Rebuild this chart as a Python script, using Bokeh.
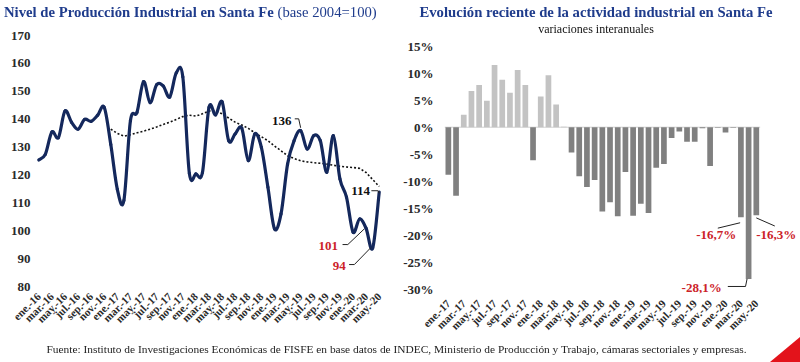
import math
import numpy as np
from bokeh.plotting import figure
from bokeh.models import Range1d, FixedTicker, Label, Div
from bokeh.layouts import row, column
from bokeh.embed import file_html
from bokeh.resources import INLINE

SERIF = "Liberation Serif"
NAVY = "#14285c"
TITLE_BLUE = "#1f3c8c"
RED = "#cc2229"

# ---------------- data: left chart (ene-16 .. may-20) ----------------
left_months = [
    "ene.-16", "feb.-16", "mar.-16", "abr.-16", "may.-16", "jun.-16", "jul.-16", "ago.-16", "sep.-16", "oct.-16", "nov.-16", "dic.-16",
    "ene.-17", "feb.-17", "mar.-17", "abr.-17", "may.-17", "jun.-17", "jul.-17", "ago.-17", "sep.-17", "oct.-17", "nov.-17", "dic.-17",
    "ene.-18", "feb.-18", "mar.-18", "abr.-18", "may.-18", "jun.-18", "jul.-18", "ago.-18", "sep.-18", "oct.-18", "nov.-18", "dic.-18",
    "ene.-19", "feb.-19", "mar.-19", "abr.-19", "may.-19", "jun.-19", "jul.-19", "ago.-19", "sep.-19", "oct.-19", "nov.-19", "dic.-19",
    "ene.-20", "feb.-20", "mar.-20", "abr.-20", "may.-20",
]
ipi_index = [
    125.5, 127.5, 135.5, 133.5, 143.0, 139.0, 136.5, 140.0, 139.3, 141.5, 144.3, 131.0,
    115.0, 111.0, 139.5, 142.5, 153.5, 146.0, 152.4, 152.0, 148.0, 156.6, 155.2, 120.7,
    120.5, 121.0, 144.3, 141.6, 146.3, 132.4, 134.8, 136.9, 125.3, 134.8, 130.0, 115.7,
    100.9, 106.2, 124.0, 132.4, 136.0, 129.4, 134.2, 132.4, 121.1, 134.2, 118.7, 112.2,
    99.7, 104.4, 101.0, 94.0, 114.0,
]
nan = float("nan")
ipi_trend = [
    nan, nan, nan, nan, nan, nan, nan, nan, nan, nan, nan, 136.5,
    135.0, 134.0, 134.5, 135.2, 135.8, 136.5, 137.3, 138.2, 139.0, 140.0, 141.0, 141.5,
    141.2, 142.0, 143.0, 143.0, 142.0, 140.5, 139.0, 138.0, 136.8, 135.2, 133.8, 132.4,
    130.5, 128.8, 127.0, 126.0, 125.2, 124.8, 124.5, 124.3, 124.0, 123.6, 123.2, 123.0,
    122.8, 122.5, 121.0, 118.5, 116.0,
]
left_yticks = [80, 90, 100, 110, 120, 130, 140, 150, 160, 170]

# ---------------- data: right chart (ene-17 .. may-20) ----------------
right_months = left_months[12:]
yoy_change = [
    -8.8, -12.7, 2.3, 6.7, 7.8, 4.9, 11.5, 8.8, 6.4, 10.6, 7.8, -6.1,
    5.7, 9.6, 4.2, 0.1, -4.7, -9.1, -11.1, -9.8, -15.6, -13.9, -16.5, -8.3,
    -16.4, -14.2, -15.9, -7.5, -6.8, -2.0, -0.8, -2.7, -2.7, -0.2, -7.2, -0.1,
    -1.0, -0.1, -16.7, -28.1, -16.3,
]
right_yticks = [-30, -25, -20, -15, -10, -5, 0, 5, 10, 15]

left_title_bold = "Nivel de Producción Industrial en Santa Fe"
left_title_reg = "(base 2004=100)"
right_title = "Evolución reciente de la actividad industrial en Santa Fe"
right_subtitle = "variaciones interanuales"
source_text = ("Fuente: Instituto de Investigaciones Económicas de FISFE en base datos de INDEC, "
               "Ministerio de Producción y Trabajo, cámaras sectoriales y empresas.")


def style_axes(p):
    p.outline_line_color = None
    p.border_fill_color = None
    p.background_fill_color = None
    p.xgrid.grid_line_color = None
    p.ygrid.grid_line_color = None
    for ax in (p.xaxis[0], p.yaxis[0]):
        ax.axis_line_color = None
        ax.major_tick_line_color = None
        ax.minor_tick_line_color = None
        ax.major_tick_out = 0
        ax.major_tick_in = 0
        ax.minor_tick_out = 0
        ax.minor_tick_in = 0
        ax.major_label_text_font = SERIF
        ax.major_label_text_font_style = "bold"
        ax.major_label_text_color = "#2a2a2a"
    p.yaxis[0].major_label_text_font_size = "13px"
    p.xaxis[0].major_label_text_font_size = "11px"
    p.xaxis[0].major_label_orientation = math.pi / 4


def lab(p, x, y, text, color="#111111", align="right", size="13px"):
    p.add_layout(Label(x=x, y=y, text=text, text_align=align, text_baseline="middle",
                       text_font=SERIF, text_font_style="bold", text_font_size=size,
                       text_color=color))


# both figures share the same top/bottom borders (a row aligns them)
TOP, BOTTOM = 35, 47

# ================= left figure =================
nL = len(left_months)
xL = list(range(nL))
pL = figure(width=400, height=340, output_backend="svg", toolbar_location=None, title=None,
            x_range=Range1d(-0.5, nL - 0.5), y_range=Range1d(77.75, 170),
            min_border_left=35, min_border_right=18, min_border_top=TOP, min_border_bottom=BOTTOM)
style_axes(pL)
pL.yaxis[0].ticker = FixedTicker(ticks=left_yticks)
pL.yaxis[0].major_label_standoff = 5
pL.xaxis[0].ticker = FixedTicker(ticks=xL[::2])
pL.xaxis[0].major_label_overrides = {i: left_months[i] for i in xL[::2]}
pL.xaxis[0].major_label_standoff = 1

pL.line(xL, ipi_trend, line_color="#111111", line_width=1.6, line_dash="2 2")

# smoothed rendering of the monthly series (curve passes through every data point)
P = np.column_stack([np.array(xL, float), np.array(ipi_index, float)])
P_prev = np.vstack([P[:1], P[:-1]])
P_next = np.vstack([P[1:], P[-1:]])
T = (P_next - P_prev) / 6.0
c0 = P[:-1] + T[:-1]
c1 = P[1:] - T[1:]
pL.bezier(x0=P[:-1, 0], y0=P[:-1, 1], x1=P[1:, 0], y1=P[1:, 1],
          cx0=c0[:, 0], cy0=c0[:, 1], cx1=c1[:, 0], cy1=c1[:, 1],
          line_color=NAVY, line_width=3.2, line_cap="round")

lab(pL, 38.6, 139.5, "136")
lab(pL, 50.6, 114.5, "114")
lab(pL, 45.7, 94.9, "101", RED)
lab(pL, 46.9, 87.7, "94", RED)
pL.line([39.1, 39.7, 40.0], [140.2, 140.2, 137.0], line_color="#222222", line_width=1)
pL.line([50.8, 51.8, 52.0], [114.5, 114.5, 113.6], line_color="#222222", line_width=1)
pL.line([46.4, 47.2, 49.7], [95.25, 95.25, 100.8], line_color="#222222", line_width=1)
pL.line([47.4, 48.2, 50.7], [88.1, 88.1, 94.1], line_color="#222222", line_width=1)

# ================= right figure =================
nR = len(right_months)
xR = list(range(nR))
pR = figure(width=400, height=340, output_backend="svg", toolbar_location=None, title=None,
            x_range=Range1d(-0.5, 45.74), y_range=Range1d(-30.8, 16.98),
            min_border_left=43, min_border_right=0, min_border_top=TOP, min_border_bottom=BOTTOM)
style_axes(pR)
pR.yaxis[0].ticker = FixedTicker(ticks=right_yticks)
pR.yaxis[0].major_label_overrides = {v: f"{v}%" for v in right_yticks}
pR.yaxis[0].major_label_standoff = 11
pR.xaxis[0].ticker = FixedTicker(ticks=xR[::2])
pR.xaxis[0].major_label_overrides = {i: right_months[i] for i in xR[::2]}
pR.xaxis[0].major_label_standoff = 8

bar_colors = ["#c3c3c3" if v >= 0 else "#808080" for v in yoy_change]
pR.segment(x0=[-0.5], y0=[0], x1=[nR - 0.5], y1=[0], line_color="#d0d0d0", line_width=1)
pR.vbar(x=xR, top=yoy_change, bottom=0, width=0.74, fill_color=bar_colors, line_color=None)

lab(pR, 34.8, -19.9, "-16,7%", RED, align="center")
lab(pR, 42.6, -19.9, "-16,3%", RED, align="center")
lab(pR, 32.9, -29.6, "-28,1%", RED, align="center")
pR.line([35.0, 37.9], [-18.7, -17.7], line_color="#222222", line_width=1)
pR.line([40.0, 42.4], [-16.8, -18.3], line_color="#222222", line_width=1)
pR.line([36.3, 38.6, 38.8], [-29.5, -29.5, -28.1], line_color="#222222", line_width=1)

# ================= titles, source and corner mark (fixed page positions) =================
font = f"font-family:'{SERIF}', serif;"
overlay_html = (
    f'<div style="position:fixed; left:4px; top:4px; white-space:nowrap; {font} '
    f'font-size:14.7px; line-height:16px; color:{TITLE_BLUE};">'
    f'<b>{left_title_bold}</b> {left_title_reg}</div>'
    f'<div style="position:fixed; left:400px; top:4px; width:392px; text-align:center; '
    f'white-space:nowrap; {font} line-height:16px;">'
    f'<span style="font-size:14.7px; font-weight:bold; color:{TITLE_BLUE};">{right_title}</span><br>'
    f'<span style="font-size:12px; color:#111111;">{right_subtitle}</span></div>'
    f'<div style="position:fixed; left:0px; top:341px; width:793px; text-align:center; '
    f'white-space:nowrap; {font} font-size:11.4px; line-height:16px; color:#222222;">{source_text}</div>'
    f'<div style="position:fixed; right:0px; bottom:0px; width:0; height:0; '
    f'border-left:30px solid transparent; border-bottom:25px solid #e3131b;"></div>'
)
overlay = Div(text=overlay_html, width=800, height=22, margin=(0, 0, 0, 0))

layout = column(row(pL, pR), overlay)
open("out.html", "w").write(file_html(layout, INLINE))
